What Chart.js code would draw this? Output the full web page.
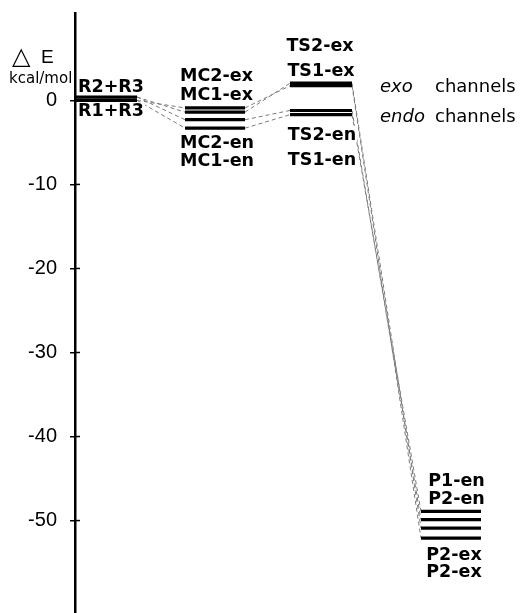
<!DOCTYPE html>
<html>
<head>
<meta charset="utf-8">
<script src="https://cdn.jsdelivr.net/npm/chart.js@4.4.1/dist/chart.umd.min.js"></script>
<style>
body { margin: 0; background: #fff; }
canvas { display: block; }
</style>
</head>
<body>
<canvas id="energy_chart" width="522" height="613"></canvas>
<script>
// relative energies in kcal/mol
var reactantNames = ['R2+R3', 'R1+R3'];
var reactantEnergy = [0.4, 0.0];
var complexNames = ['MC1-ex', 'MC2-ex', 'MC2-en', 'MC1-en'];
var complexEnergy = [-0.9, -1.4, -2.3, -3.3];
var tsNames = ['TS2-ex', 'TS1-ex', 'TS2-en', 'TS1-en'];
var tsEnergy = [2.05, 1.75, -1.2, -1.7];
var productNames = ['P1-en', 'P2-en', 'P2-ex', 'P1-ex'];
var productEnergy = [-48.9, -49.9, -50.9, -52.1];
var yTicks = [0, -10, -20, -30, -40, -50];

// which level feeds which (dashed connectors)
var links = [
  ['R1+R3', 'MC1-ex'], ['R2+R3', 'MC2-ex'], ['R2+R3', 'MC2-en'], ['R1+R3', 'MC1-en'],
  ['MC1-ex', 'TS1-ex'], ['MC2-ex', 'TS2-ex'], ['MC2-en', 'TS2-en'], ['MC1-en', 'TS1-en'],
  ['TS1-ex', 'P1-ex'], ['TS2-ex', 'P2-ex'], ['TS2-en', 'P2-en'], ['TS1-en', 'P1-en']
];

// horizontal extent of each stage along the (hidden) x axis
var stages = [
  {names: reactantNames, energy: reactantEnergy, from: 0, to: 62},
  {names: complexNames, energy: complexEnergy, from: 110, to: 170},
  {names: tsNames, energy: tsEnergy, from: 215, to: 277},
  {names: productNames, energy: productEnergy, from: 346, to: 406}
];

var boldFont = "bold 17.5px 'DejaVu Sans'";
var textMarks = [
  {text: 'R2+R3', x: 36, y: reactantEnergy[0], dy: -4.6},
  {text: 'R1+R3', x: 36, y: reactantEnergy[1], dy: 16},
  {text: 'MC2-ex', x: 141.5, y: complexEnergy[0], dy: -26.6},
  {text: 'MC1-ex', x: 141.5, y: complexEnergy[0], dy: -8.3},
  {text: 'MC2-en', x: 142, y: complexEnergy[3], dy: 20},
  {text: 'MC1-en', x: 142, y: complexEnergy[3], dy: 37.6},
  {text: 'TS2-ex', x: 245, y: tsEnergy[0], dy: -31.8},
  {text: 'TS1-ex', x: 246, y: tsEnergy[0], dy: -7.5},
  {text: 'TS2-en', x: 247, y: tsEnergy[3], dy: 25},
  {text: 'TS1-en', x: 247, y: tsEnergy[3], dy: 50},
  {text: 'P1-en', x: 381.5, y: productEnergy[0], dy: -25},
  {text: 'P2-en', x: 381.5, y: productEnergy[0], dy: -7.7},
  {text: 'P2-ex', x: 379, y: productEnergy[3], dy: 21.3},
  {text: 'P2-ex', x: 379, y: productEnergy[3], dy: 38.6},
  {text: 'exo', x: 305, y: tsEnergy[0], dy: 8.5, font: "italic 18px 'DejaVu Sans'", align: 'left', plain: true},
  {text: 'channels', x: 360, y: tsEnergy[0], dy: 8.5, font: "18px 'DejaVu Sans'", align: 'left', plain: true},
  {text: 'endo', x: 305, y: tsEnergy[3], dy: 7, font: "italic 18px 'DejaVu Sans'", align: 'left', plain: true},
  {text: 'channels', x: 360, y: tsEnergy[3], dy: 7, font: "18px 'DejaVu Sans'", align: 'left', plain: true}
];

function findLevel(name)
{
  for (var s = 0; s < stages.length; s++) {
    var k = stages[s].names.indexOf(name);
    if (k >= 0) return {stage: s, energy: stages[s].energy[k]};
  }
  return null;
}

var datasets = [];
for (var s = 0; s < stages.length; s++) {
  for (var i = 0; i < stages[s].energy.length; i++) {
    datasets.push({
      label: stages[s].names[i],
      data: [{x: stages[s].from, y: stages[s].energy[i]}, {x: stages[s].to, y: stages[s].energy[i]}],
      borderColor: '#000',
      borderWidth: 3.2,
      borderCapStyle: 'butt',
      order: 0
    });
  }
}
for (var j = 0; j < links.length; j++) {
  var a = findLevel(links[j][0]);
  var b = findLevel(links[j][1]);
  datasets.push({
    label: links[j][0] + ' > ' + links[j][1],
    data: [{x: stages[a.stage].to, y: a.energy}, {x: stages[b.stage].from, y: b.energy}],
    borderColor: '#7a7a7a',
    borderWidth: 1,
    borderDash: [4, 3],
    order: 1
  });
}

var extraDrawing = {
  id: 'extraDrawing',
  afterDatasetsDraw: function(chart) {
    var ctx = chart.ctx;
    var xs = chart.scales.x;
    var ys = chart.scales.y;
    ctx.save();
    // ticks poke through to the right of the axis as well
    ctx.strokeStyle = '#000';
    ctx.lineWidth = 1.5;
    for (var i = 0; i < yTicks.length; i++) {
      var ty = ys.getPixelForValue(yTicks[i]);
      ctx.beginPath();
      ctx.moveTo(chart.chartArea.left, ty);
      ctx.lineTo(chart.chartArea.left + 5, ty);
      ctx.stroke();
    }
    ctx.textBaseline = 'alphabetic';
    for (var k = 0; k < textMarks.length; k++) {
      var t = textMarks[k];
      ctx.font = t.font || boldFont;
      ctx.textAlign = t.align || 'center';
      var px = xs.getPixelForValue(t.x);
      var py = ys.getPixelForValue(t.y) + t.dy;
      if (!t.plain) {
        var w = ctx.measureText(t.text).width;
        ctx.fillStyle = '#fff';
        ctx.fillRect(px - w / 2 - 1, py - 14, w + 2, 16);
      }
      ctx.fillStyle = '#000';
      ctx.fillText(t.text, px, py);
    }
    // axis caption
    ctx.textAlign = 'left';
    ctx.font = "24px 'DejaVu Sans'";
    ctx.fillText('\u25B3', 12, 64);
    ctx.font = "19px 'Liberation Sans'";
    ctx.fillText('E', 41, 63);
    ctx.font = "15px 'DejaVu Sans'";
    ctx.fillText('kcal/mol', 9, 83);
    ctx.restore();
  }
};

var ctx = document.getElementById('energy_chart').getContext('2d');
new Chart(ctx, {
  type: 'scatter',
  data: {datasets: datasets},
  options: {
    responsive: false,
    animation: false,
    showLine: true,
    elements: {point: {radius: 0, hoverRadius: 0}, line: {tension: 0}},
    layout: {padding: {top: 13, right: 0, bottom: 0, left: 0}},
    plugins: {legend: {display: false}, tooltip: {enabled: false}},
    scales: {
      x: {type: 'linear', min: 0, max: 447, display: false},
      y: {
        type: 'linear',
        min: -61,
        max: 10.4,
        afterFit: function(scale) {
          scale.width = 75;
          scale.paddingTop = 0;
          scale.paddingBottom = 0;
        },
        afterBuildTicks: function(scale) {
          scale.ticks = yTicks.map(function(v) { return {value: v}; });
        },
        border: {display: true, color: '#000', width: 2.5},
        grid: {drawOnChartArea: false, color: '#000', lineWidth: 1.5, tickLength: 5},
        ticks: {
          color: '#000',
          padding: 13,
          font: {family: 'Liberation Sans', size: 20},
          callback: function(v) { return v; }
        }
      }
    }
  },
  plugins: [extraDrawing]
});
</script>
</body>
</html>
